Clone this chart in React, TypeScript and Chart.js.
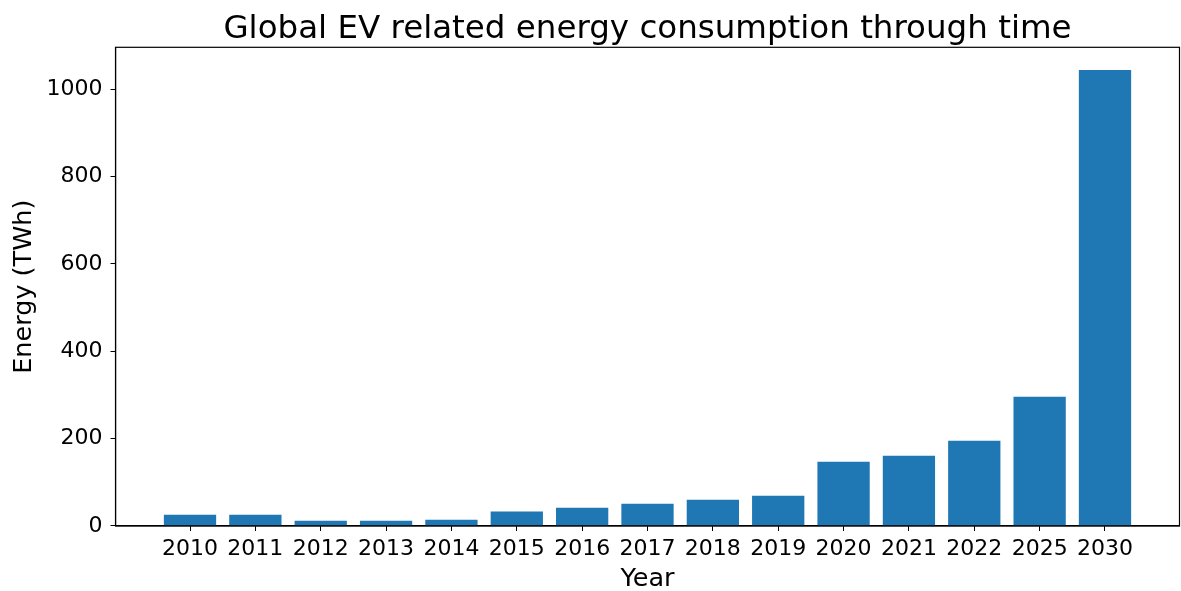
import React, { useEffect, useRef } from "react";
import { Chart, registerables } from "chart.js";

Chart.register(...registerables);

const years = ["2010", "2011", "2012", "2013", "2014", "2015", "2016", "2017", "2018", "2019", "2020", "2021", "2022", "2025", "2030"];
const energy = [26, 26, 12, 12, 14.5, 33, 42, 51, 60, 69.5, 147, 161, 195, 296, 1044];
const yTicks = [0, 200, 400, 600, 800, 1000];
const titleText = "Global EV related energy consumption through time";

const FONT = "'DejaVu Sans', sans-serif";

const framePlugin = {
  id: "frame",
  afterDraw(chart: any) {
    const { ctx, chartArea } = chart;
    ctx.save();
    ctx.strokeStyle = "#000";
    ctx.lineWidth = 1.2;
    ctx.strokeRect(chartArea.left, chartArea.top, chartArea.right - chartArea.left, chartArea.bottom - chartArea.top);
    ctx.fillStyle = "#000";
    ctx.font = `32.5px ${FONT}`;
    ctx.textAlign = "center";
    ctx.textBaseline = "alphabetic";
    ctx.fillText(titleText, (chartArea.left + chartArea.right) / 2, 37.5);
    ctx.restore();
  },
};

export default function App() {
  const ref = useRef<HTMLCanvasElement | null>(null);
  useEffect(() => {
    document.body.style.margin = "0";
    const chart = new Chart(ref.current as HTMLCanvasElement, {
      type: "bar",
      data: {
        datasets: [
          {
            data: energy.map((v, i) => ({ x: i, y: v })),
            backgroundColor: "#1f77b4",
            borderWidth: 0,
            barPercentage: 0.8,
            categoryPercentage: 1,
          },
        ],
      },
      options: {
        animation: false,
        responsive: false,
        devicePixelRatio: 1,
        layout: { padding: { left: 0, right: 1.5, top: 47.3, bottom: 0 } },
        plugins: {
          legend: { display: false },
          tooltip: { enabled: false },
          title: { display: false },
        },
        scales: {
          x: {
            type: "linear",
            offset: false,
            min: -1.14,
            max: 15.14,
            afterBuildTicks: (scale: any) => {
              scale.ticks = years.map((_, i) => ({ value: i }));
            },
            afterFit: (scale: any) => {
              scale.height = 591 - 47.3 - 478.7;
            },
            ticks: {
              autoSkip: false,
              maxRotation: 0,
              color: "#000",
              padding: 5,
              font: { family: FONT, size: 22 },
              callback: (v: any) => years[v] ?? "",
            },
            grid: { drawOnChartArea: false, drawTicks: true, tickLength: 5, color: "#000", offset: false },
            border: { display: true, color: "#000", width: 1.2 },
            title: {
              display: true,
              text: "Year",
              color: "#000",
              font: { family: FONT, size: 25.5, lineHeight: 0.95 },
              padding: { top: 2, bottom: 0 },
            },
          },
          y: {
            min: 0,
            max: 1096,
            afterBuildTicks: (scale: any) => {
              scale.ticks = yTicks.map((v) => ({ value: v }));
            },
            afterFit: (scale: any) => {
              scale.width = 115.5;
            },
            ticks: {
              color: "#000",
              padding: 8,
              font: { family: FONT, size: 22 },
              callback: (v: any) => String(v),
            },
            grid: { drawOnChartArea: false, drawTicks: true, tickLength: 5, color: "#000" },
            border: { display: true, color: "#000", width: 1.2 },
            title: {
              display: true,
              text: "Energy (TWh)",
              color: "#000",
              font: { family: FONT, size: 25.5 },
              padding: { top: 9.5, bottom: 0 },
            },
          },
        },
      },
      plugins: [framePlugin],
    } as any);
    return () => chart.destroy();
  }, []);
  return (
    <div style={{ position: "absolute", left: 0, top: 0, width: 1181, height: 591, background: "#fff" }}>
      <canvas ref={ref} width={1181} height={591} style={{ width: 1181, height: 591 }} />
    </div>
  );
}
